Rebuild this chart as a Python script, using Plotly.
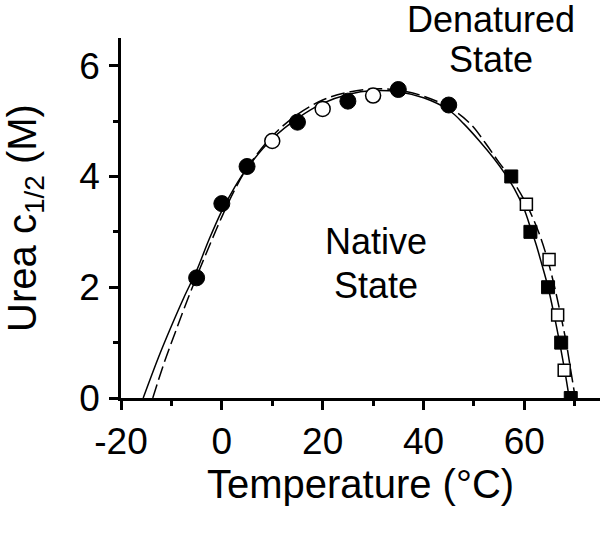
import plotly.graph_objects as go

# measured points, filled = one data set, open = the other
circ_fill_x = [-5, 0, 5, 15, 25, 35, 45]
circ_fill_y = [2.17, 3.51, 4.18, 4.98, 5.36, 5.57, 5.29]
circ_open_x = [10, 20, 30]
circ_open_y = [4.64, 5.22, 5.46]

sq_fill_x = [57.4, 61.2, 64.7, 67.3, 69.2]
sq_fill_y = [4.0, 3.0, 2.0, 1.0, 0.0]
sq_open_x = [60.4, 64.9, 66.6, 67.9]
sq_open_y = [3.5, 2.5, 1.5, 0.5]

# fitted curves
solid_x = [-15.6, -12.5, -10, -7.5, -5, -2.5, 0, 2.5, 5, 10, 15, 20, 25, 30, 35, 40, 45,
           48, 51, 54, 56, 58, 60, 61.3, 62.3, 63.5, 64.7, 65.9, 67.0, 68.0, 68.9]
solid_y = [0, 0.75, 1.3, 1.82, 2.3, 2.87, 3.38, 3.8, 4.15, 4.68, 5.05, 5.32, 5.48, 5.55, 5.53,
           5.42, 5.2, 4.95, 4.65, 4.32, 4.07, 3.78, 3.4, 3.05, 2.78, 2.4, 2.0, 1.5, 1.0, 0.5, 0]
dash_x = [-13.7, -11.5, -9.3, -6.7, -4.2, -2, 0, 2.5, 5, 10, 15, 20, 25, 30, 35, 40, 45,
          49.3, 52.3, 55, 57.5, 60.4, 62.8, 64.6, 66.0, 67.2, 68.3, 69.2, 70.1]
dash_y = [0, 0.62, 1.17, 1.8, 2.37, 2.85, 3.27, 3.75, 4.15, 4.73, 5.12, 5.38, 5.52, 5.58, 5.56,
          5.45, 5.25, 4.95, 4.6, 4.25, 3.95, 3.5, 3.0, 2.5, 2.0, 1.5, 1.0, 0.5, 0]

x_ticks = [-20, 0, 20, 40, 60]
x_ticktext = ["-20", "0", "20", "40", "60"]
y_ticks = [0, 2, 4, 6]

FONT = "Liberation Sans, Arial, sans-serif"

fig = go.Figure()
fig.add_scatter(x=solid_x, y=solid_y, mode="lines", line=dict(color="black", width=1.5, shape="spline"))
fig.add_scatter(x=dash_x, y=dash_y, mode="lines",
                line=dict(color="black", width=1.5, dash="14px,5px", shape="spline"))
fig.add_scatter(x=circ_fill_x, y=circ_fill_y, mode="markers",
                marker=dict(symbol="circle", size=16, color="black", line=dict(color="black", width=1)))
fig.add_scatter(x=circ_open_x, y=circ_open_y, mode="markers",
                marker=dict(symbol="circle", size=15, color="white", line=dict(color="black", width=1.5)))
fig.add_scatter(x=sq_fill_x, y=sq_fill_y, mode="markers",
                marker=dict(symbol="square", size=13, color="black", line=dict(color="black", width=1)))
fig.add_scatter(x=sq_open_x, y=sq_open_y, mode="markers",
                marker=dict(symbol="square", size=12, color="white", line=dict(color="black", width=1.5)))

fig.add_annotation(x=30.6, y=2.82, text="Native", showarrow=False, font=dict(size=36))
fig.add_annotation(x=30.6, y=2.04, text="State", showarrow=False, font=dict(size=36))
fig.add_annotation(x=0.772, y=1.05, xref="paper", yref="paper", xanchor="center", yanchor="middle",
                   text="Denatured", showarrow=False, font=dict(size=36))
fig.add_annotation(x=0.772, y=0.94, xref="paper", yref="paper", xanchor="center", yanchor="middle",
                   text="State", showarrow=False, font=dict(size=36))

fig.update_xaxes(
    range=[-20, 75], tickvals=x_ticks, ticktext=x_ticktext, automargin=False,
    showline=True, linecolor="black", linewidth=2.5, showgrid=False, zeroline=False,
    ticks="outside", ticklen=9, tickwidth=2.5, tickcolor="black", ticklabelstandoff=0,
    minor=dict(tickvals=[-10, 10, 30, 50, 70], ticks="outside", ticklen=5, tickwidth=2.5, tickcolor="black"),
    tickfont=dict(size=37),
    title=dict(text="Temperature (°C)", font=dict(size=40), standoff=6),
)
fig.update_yaxes(
    range=[0, 6.5], tickvals=y_ticks, automargin=False,
    showline=True, linecolor="black", linewidth=2.5, showgrid=False, zeroline=False,
    ticks="outside", ticklen=9, tickwidth=2.5, tickcolor="black", ticklabelstandoff=2,
    minor=dict(tickvals=[1, 3, 5], ticks="outside", ticklen=5, tickwidth=2.5, tickcolor="black"),
    tickfont=dict(size=37),
    title=dict(text="Urea c<sub>1/2</sub> (M)", font=dict(size=40), standoff=66),
)
fig.update_layout(
    width=603, height=537, showlegend=False,
    margin=dict(l=121, r=3, t=38, b=139),
    plot_bgcolor="white", paper_bgcolor="white",
    font=dict(family=FONT, color="black"),
)
# drop the page's default body margin so the figure sits at the window corner
fig.write_html("out.html", config={"displayModeBar": False},
               post_script="document.body.style.margin='0';")
